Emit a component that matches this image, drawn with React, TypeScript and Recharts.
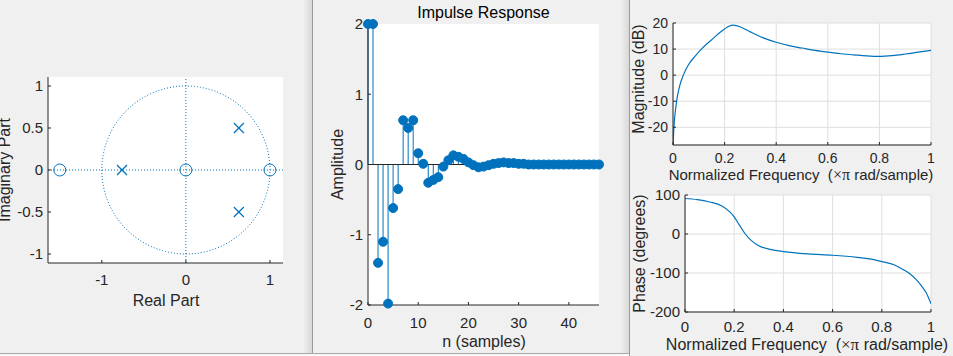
import React from "react";
import {
  ScatterChart,
  Scatter,
  ComposedChart,
  LineChart,
  Line,
  Bar,
  XAxis,
  YAxis,
  CartesianGrid,
  ReferenceLine,
} from "recharts";

const BLUE = "#0072bd";
const INK = "#262626";
const GRID = "#dedede";
const FIG_BG = "#f0f0f0";
const SANS = "'Liberation Sans', Arial, Helvetica, sans-serif";
const SERIF = "'Liberation Serif', 'Times New Roman', serif";

// pole-zero plot
const zeroReal = [-1.5, 0, 1];
const zeroImag = [0, 0, 0];
const poleReal = [-0.76, 0.63, 0.63];
const poleImag = [0, 0.5, -0.5];

// impulse response
const sampleIndex = [
  0, 1, 2, 3, 4, 5, 6, 7, 8, 9, 10, 11, 12, 13, 14, 15, 16, 17, 18, 19, 20, 21, 22, 23,
  24, 25, 26, 27, 28, 29, 30, 31, 32, 33, 34, 35, 36, 37, 38, 39, 40, 41, 42, 43, 44, 45, 46,
];
const amplitude = [
  2, 2, -1.4, -1.1, -1.98, -0.62, -0.35, 0.63, 0.52, 0.63, 0.16, 0.01, -0.26, -0.22, -0.18,
  -0.03, 0.06, 0.13, 0.11, 0.08, 0.03, -0.01, -0.04, -0.03, -0.01, 0.01, 0.02, 0.03, 0.02,
  0.02, 0.01, 0.01, 0, 0, 0, 0, 0, 0, 0, 0, 0, 0, 0, 0, 0, 0, 0,
];

// magnitude response
const magFreq = [
  0, 0.003, 0.005, 0.0105, 0.018, 0.027, 0.04, 0.06, 0.085, 0.11, 0.15, 0.19, 0.21, 0.23,
  0.25, 0.27, 0.3, 0.35, 0.4, 0.45, 0.5, 0.55, 0.6, 0.65, 0.7, 0.75, 0.8, 0.85, 0.9, 0.95, 1,
];
const magDb = [
  -26.8, -21, -18, -12.7, -7.6, -3.7, 0, 4, 7.2, 10, 13.6, 17, 18.4, 19.2, 18.9, 18.1, 16.6,
  14.3, 12.6, 11.3, 10.4, 9.5, 8.8, 8.2, 7.8, 7.4, 7.2, 7.5, 8.1, 8.8, 9.5,
];

// phase response
const phaseFreq = [
  0, 0.05, 0.1, 0.15, 0.18, 0.2, 0.22, 0.245, 0.27, 0.3, 0.35, 0.4, 0.5, 0.6, 0.7, 0.75, 0.8,
  0.85, 0.88, 0.91, 0.94, 0.96, 0.98, 1,
];
const phaseDeg = [
  91, 88, 82, 72, 58, 44, 24, 0, -17, -30, -40, -45, -51, -54.5, -60, -64, -71, -79, -89,
  -100, -117, -132, -150, -179,
];

const pzXTicks = [-1, 0, 1];
const pzYTicks = [-1, -0.5, 0, 0.5, 1];
const nTicks = [0, 10, 20, 30, 40];
const ampTicks = [-2, -1, 0, 1, 2];
const freqTicks = [0, 0.2, 0.4, 0.6, 0.8, 1];
const dbTicks = [-20, -10, 0, 10, 20];
const degTicks = [-200, -100, 0, 100];

const zeros = zeroReal.map((x, i) => ({ x, y: zeroImag[i] }));
const poles = poleReal.map((x, i) => ({ x, y: poleImag[i] }));
// unit circle reference (zplane guide)
const unitCircle = Array.from({ length: 181 }, (_, i) => {
  const t = (i / 180) * 2 * Math.PI;
  return { x: Math.cos(t), y: Math.sin(t) };
});
const impulseData = sampleIndex.map((n, i) => ({ n, amp: amplitude[i] }));
const magData = magFreq.map((f, i) => ({ f, db: magDb[i] }));
const phaseData = phaseFreq.map((f, i) => ({ f, deg: phaseDeg[i] }));

type FrameOpts = {
  xKey: string;
  yKey?: string;
  xDomain: number[];
  yDomain: number[];
  xTicks: number[];
  yTicks: number[];
  xGap: number;
  yGap: number;
  yWidth: number;
  fontSize: number;
  clip?: boolean;
};

// MATLAB style box: ticks pointing inwards on all four sides
function frame(o: FrameOpts) {
  const tickStyle = { fill: INK, fontSize: o.fontSize, fontFamily: SANS };
  const clip = o.clip !== false;
  return [
    <XAxis key="xb" dataKey={o.xKey} type="number" domain={o.xDomain} ticks={o.xTicks}
      interval={0} allowDataOverflow={clip} tickSize={-3} tickMargin={o.xGap} height={30}
      stroke={INK} tick={tickStyle} />,
    <YAxis key="yl" dataKey={o.yKey} type="number" domain={o.yDomain} ticks={o.yTicks}
      interval={0} allowDataOverflow={clip} tickSize={-3} tickMargin={o.yGap} width={o.yWidth}
      stroke={INK} tick={tickStyle} />,
    <XAxis key="xt" xAxisId="top" orientation="top" type="number" domain={o.xDomain}
      ticks={o.xTicks} interval={0} allowDataOverflow tickSize={-3} height={0}
      stroke={INK} tick={false} />,
    <YAxis key="yr" yAxisId="right" orientation="right" type="number" domain={o.yDomain}
      ticks={o.yTicks} interval={0} allowDataOverflow tickSize={-3} width={0}
      stroke={INK} tick={false} />,
  ];
}

const ZeroMark = (p: any) => (
  <circle cx={p.cx} cy={p.cy} r={6} fill="none" stroke={BLUE} strokeWidth={1} />
);
const PoleMark = (p: any) => (
  <g stroke={BLUE} strokeWidth={1.2}>
    <line x1={p.cx - 5} y1={p.cy - 5} x2={p.cx + 5} y2={p.cy + 5} />
    <line x1={p.cx - 5} y1={p.cy + 5} x2={p.cx + 5} y2={p.cy - 5} />
  </g>
);

const labelStyle = { fill: INK, fontFamily: SANS, fontSize: 16 };

function YLabel({ x, y, text, size = 16 }: { x: number; y: number; text: string; size?: number }) {
  return (
    <text x={x} y={y} transform={`rotate(-90, ${x}, ${y})`} textAnchor="middle"
      style={{ ...labelStyle, fontSize: size }}>
      {text}
    </text>
  );
}

function FreqLabel({ x, y, size }: { x: number; y: number; size: number }) {
  return (
    <text x={x} y={y} textAnchor="middle" style={{ ...labelStyle, fontSize: size, whiteSpace: "pre" }}>
      {"Normalized Frequency  ("}
      <tspan fontFamily={SERIF} fontSize={size + 1}>{"\u00d7\u03c0"}</tspan>
      {" rad/sample)"}
    </text>
  );
}

export default function App() {
  return (
    <div style={{ position: "absolute", left: 0, top: 0, width: 953, height: 356, background: FIG_BG, overflow: "hidden" }}>
      {/* window edges */}
      <div style={{ position: "absolute", left: 303, top: 0, width: 9, height: 356, background: "linear-gradient(to right, #f0f0f0, #d9d9d9)" }} />
      <div style={{ position: "absolute", left: 312, top: 0, width: 1, height: 356, background: "#9a9a9a" }} />
      <div style={{ position: "absolute", left: 620, top: 0, width: 9, height: 356, background: "linear-gradient(to right, #f0f0f0, #d9d9d9)" }} />
      <div style={{ position: "absolute", left: 629, top: 0, width: 1, height: 356, background: "#9a9a9a" }} />
      <div style={{ position: "absolute", left: 0, top: 353, width: 629, height: 1, background: "#a8a8a8" }} />
      <div style={{ position: "absolute", left: 0, top: 354, width: 629, height: 2, background: "#f8f8f8" }} />

      {/* pole-zero plot */}
      <div style={{ position: "absolute", left: 0, top: 0 }}>
        <ScatterChart width={310} height={356} margin={{ top: 77, right: 27, bottom: 63, left: 8 }}>
          <CartesianGrid fill="#ffffff" horizontal={false} vertical={false} />
          {frame({ xKey: "x", yKey: "y", xDomain: [-1.64, 1.155], yDomain: [-1.107, 1.107], xTicks: pzXTicks, yTicks: pzYTicks, xGap: 14, yGap: 8, yWidth: 40, fontSize: 15 })}
          <ReferenceLine x={0} stroke={BLUE} strokeDasharray="1 2" />
          <ReferenceLine y={0} stroke={BLUE} strokeDasharray="1 2" />
          <Scatter data={unitCircle} line={{ stroke: BLUE, strokeWidth: 1, strokeDasharray: "1 2" }} lineType="joint" shape={() => <g />} isAnimationActive={false} />
          <Scatter data={zeros} shape={ZeroMark} isAnimationActive={false} />
          <Scatter data={poles} shape={PoleMark} isAnimationActive={false} />
          <text x={166} y={306} textAnchor="middle" style={labelStyle}>Real Part</text>
          <YLabel x={10} y={170} text="Imaginary Part" />
        </ScatterChart>
      </div>

      {/* impulse response */}
      <div style={{ position: "absolute", left: 312, top: 0 }}>
        <ComposedChart width={312} height={356} data={impulseData} margin={{ top: 24, right: 25, bottom: 21, left: 26 }}>
          <CartesianGrid fill="#ffffff" horizontal={false} vertical={false} />
          {frame({ xKey: "n", xDomain: [0, 46], yDomain: [-2, 2], xTicks: nTicks, yTicks: ampTicks, xGap: 15, yGap: 8, yWidth: 30, fontSize: 15, clip: false })}
          <ReferenceLine y={0} stroke={INK} strokeWidth={1} />
          <Bar dataKey="amp" barSize={1} fill={BLUE} isAnimationActive={false} />
          <Line dataKey="amp" stroke="none" dot={{ r: 4.5, fill: BLUE, stroke: BLUE, strokeWidth: 1 }} activeDot={false} isAnimationActive={false} />
          <text x={171.5} y={18} textAnchor="middle" style={{ ...labelStyle, fill: "#000" }}>Impulse Response</text>
          <text x={172} y={347} textAnchor="middle" style={labelStyle}>n (samples)</text>
          <YLabel x={31} y={164.5} text="Amplitude" />
        </ComposedChart>
      </div>

      {/* magnitude response */}
      <div style={{ position: "absolute", left: 630, top: 0 }}>
        <LineChart width={323} height={186} data={magData} margin={{ top: 23, right: 22, bottom: 11, left: 13 }}>
          <CartesianGrid fill="#ffffff" stroke={GRID} />
          {frame({ xKey: "f", xDomain: [0, 1], yDomain: [-26.8, 20], xTicks: freqTicks, yTicks: dbTicks, xGap: 11, yGap: 8, yWidth: 30, fontSize: 14 })}
          <Line type="monotone" dataKey="db" stroke={BLUE} strokeWidth={1.2} dot={false} activeDot={false} isAnimationActive={false} />
          <FreqLabel x={171} y={180} size={15} />
          <YLabel x={14} y={79} text="Magnitude (dB)" />
        </LineChart>
      </div>

      {/* phase response */}
      <div style={{ position: "absolute", left: 630, top: 186 }}>
        <LineChart width={323} height={170} data={phaseData} margin={{ top: 9, right: 22, bottom: 14, left: 25 }}>
          <CartesianGrid fill="#ffffff" stroke={GRID} />
          {frame({ xKey: "f", xDomain: [0, 1], yDomain: [-200, 100], xTicks: freqTicks, yTicks: degTicks, xGap: 12, yGap: 8, yWidth: 30, fontSize: 15 })}
          <Line type="monotone" dataKey="deg" stroke={BLUE} strokeWidth={1.2} dot={false} activeDot={false} isAnimationActive={false} />
          <FreqLabel x={177} y={164} size={16} />
          <YLabel x={15} y={67.5} text="Phase (degrees)" size={16} />
        </LineChart>
      </div>
    </div>
  );
}
